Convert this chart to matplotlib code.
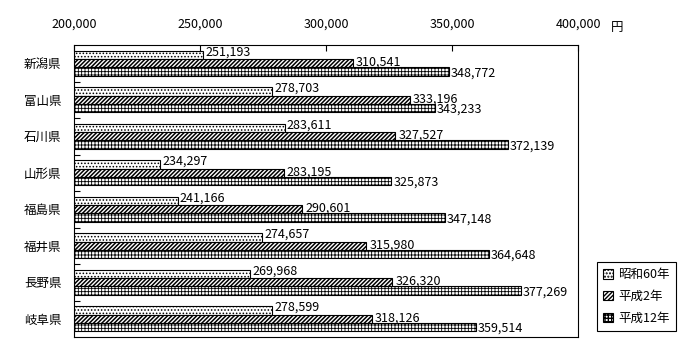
import numpy as np
import matplotlib
matplotlib.use("Agg")
import matplotlib.pyplot as plt
from matplotlib.patches import Patch

plt.rcParams['font.family'] = ['Noto Sans CJK JP', 'DejaVu Sans']

# data
prefs = ['新潟県', '富山県', '石川県', '山形県', '福島県', '福井県', '長野県', '岐阜県']
s60 = [251193, 278703, 283611, 234297, 241166, 274657, 269968, 278599]
h2 = [310541, 333196, 327527, 283195, 290601, 315980, 326320, 318126]
h12 = [348772, 343233, 372139, 325873, 347148, 364648, 377269, 359514]
series_names = ['昭和60年', '平成2年', '平成12年']
xticks = [200000, 250000, 300000, 350000, 400000]

fig = plt.figure(figsize=(7, 3.6), dpi=100)
ax = fig.add_axes([74 / 700, 1 - 337 / 360, 504 / 700, 292 / 360])

y = np.arange(len(prefs))
h = 0.23
series = [s60, h2, h12]
hatches = ['.....', '////////', '+++++']
hatch_lw = [0.7, 1.1, 0.6]
offsets = [-0.23, 0.0, 0.23]
text_off = [(2, 3), (3, 1), (2, -1)]

for vals, hatch, hlw, off, toff in zip(series, hatches, hatch_lw, offsets, text_off):
    with plt.rc_context({'hatch.linewidth': hlw}):
        ax.barh(y + off, np.array(vals) - 200000, height=h, left=200000,
                color='white', edgecolor='black', linewidth=0.8, hatch=hatch)
    for yi, v in zip(y, vals):
        ax.annotate(f'{v:,}', (v, yi + off), xytext=toff, textcoords='offset pixels',
                    ha='left', va='center', fontsize=9)

ax.set_xlim(200000, 400000)
ax.set_ylim(len(prefs) - 0.5, -0.5)
ax.xaxis.tick_top()
ax.set_xticks(xticks)
ax.set_xticklabels([f'{t:,}' for t in xticks], fontsize=9)
ax.tick_params(axis='x', direction='in', length=4, pad=10, width=0.8)
ax.set_yticks(y)
ax.set_yticklabels(prefs, fontsize=9)
ax.tick_params(axis='y', which='major', length=0, pad=9)
ax.set_yticks(np.arange(0.5, len(prefs) - 0.5, 1), minor=True)
ax.tick_params(axis='y', which='minor', direction='in', length=4, width=0.8)
for sp in ax.spines.values():
    sp.set_linewidth(0.8)

fig.text(617 / 700, 1 - 27 / 360, '円', ha='center', va='center', fontsize=9)

handles = []
for hh, hlw in zip(hatches, hatch_lw):
    with plt.rc_context({'hatch.linewidth': hlw}):
        handles.append(Patch(facecolor='white', edgecolor='black', hatch=hh, linewidth=0.8))
leg = fig.legend(handles, series_names, loc='upper left',
                 bbox_to_anchor=(597 / 700, 1 - 262 / 360), fontsize=9,
                 handlelength=0.8, handleheight=0.8, handletextpad=0.4,
                 labelspacing=0.7, borderpad=0.5, fancybox=False, framealpha=1,
                 edgecolor='black', borderaxespad=0)
leg.get_frame().set_linewidth(0.8)

fig.savefig('out.png', dpi=100)
